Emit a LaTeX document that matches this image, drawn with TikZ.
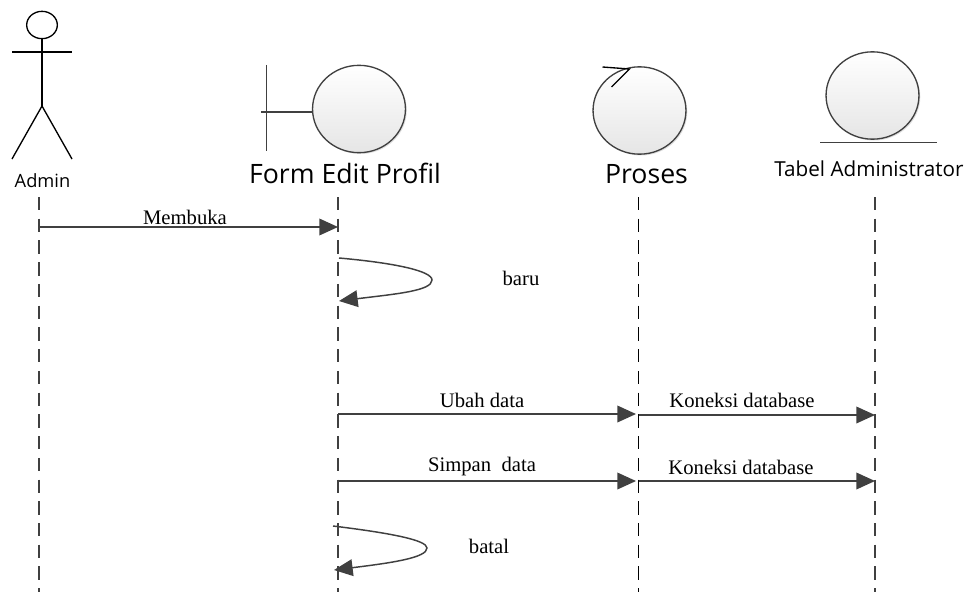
\documentclass[tikz,border=0pt]{standalone}
\usepackage{fontspec}
\setmainfont{Liberation Serif}
\newfontfamily\labelfont{Open Sans}
\usetikzlibrary{arrows.meta,shapes.geometric,shadows}
\definecolor{linegray}{HTML}{404040}
\begin{document}
\begin{tikzpicture}[x=0.75pt,y=-0.75pt]
\tikzstyle{stick} = [ellipse, draw=black, line width=1pt, fill=white, inner sep=0pt] % actor head
\tikzstyle{robust} = [ellipse, draw=linegray, line width=1pt, minimum width=69.7pt, minimum height=65.5pt, inner sep=0pt, top color=white, bottom color=black!10, drop shadow={opacity=.25, shadow xshift=1pt, shadow yshift=-1pt}] % robustness circle
\tikzstyle{lifeline} = [draw=linegray, line width=1pt, dash pattern=on 10pt off 6.3pt]
\tikzstyle{msg} = [draw=linegray, line width=1.1pt, -{Triangle[length=14pt,width=12.5pt]}]
\tikzstyle{msgtext} = [inner sep=0pt, font=\fontsize{15.5}{17}\selectfont]
\useasboundingbox (0,0) rectangle (969,592);

% aktor
\node[stick, minimum width=23pt, minimum height=20.5pt] (adminhead) at (42,25) {};
\coordinate (adminhip) at (42,106);
\coordinate (adminarml) at (12,52);
\coordinate (adminarmr) at (72,52);
\coordinate (adminfootl) at (12,159);
\coordinate (adminfootr) at (72,159);
\draw[line width=1pt] (adminhead) -- (adminhip);
\draw[line width=1pt] (adminarml) -- (adminarmr);
\draw[line width=1pt] (adminfootl) -- (adminhip) -- (adminfootr);
\node[inner sep=0pt, font=\labelfont\fontsize{13.7}{15}\selectfont] (adminlabel) at (42.5,181) {Admin};

% boundary
\node[robust] (form) at (359,109) {};
\coordinate (formbart) at (266.5,65);
\coordinate (formbarb) at (266.5,151);
\coordinate (formstem) at (261,112);
\draw[linegray, line width=1pt] (formbart) -- (formbarb);
\draw[linegray, line width=1pt] (formstem) -- (form.west |- formstem);
\node[inner sep=0pt, font=\labelfont\fontsize{20}{22}\selectfont] (formlabel) at (345,173) {Form Edit Profil};

% control
\node[robust] (proses) at (639.5,110.5) {};
\coordinate (prosestip) at (629.5,69);
\coordinate (prosesa) at (602.5,67);
\coordinate (prosesb) at (611.5,87);
\draw[line width=1pt] (prosesa) -- (prosestip) -- (prosesb);
\node[inner sep=0pt, font=\labelfont\fontsize{20}{22}\selectfont] (proseslabel) at (646.5,174) {Proses};

% entity
\node[robust] (tabel) at (872.5,95.5) {};
\coordinate (tabelbasel) at (820,142.5);
\coordinate (tabelbaser) at (937,142.5);
\draw[linegray, line width=1pt] (tabelbasel) -- (tabelbaser);
\node[inner sep=0pt, font=\labelfont\fontsize{15.5}{17}\selectfont] (tabellabel) at (869,169) {Tabel Administrator};

% garis hidup
\coordinate (admintop) at (39,197);
\coordinate (adminend) at (39,592);
\coordinate (formtop) at (338,197);
\coordinate (formend) at (338,592);
\coordinate (prosestop) at (638.5,197);
\coordinate (prosesend) at (638.5,592);
\coordinate (tabeltop) at (875,197);
\coordinate (tabelend) at (875,592);
\draw[lifeline] (admintop) -- (adminend);
\draw[lifeline] (formtop) -- (formend);
\draw[lifeline, draw=black] (prosestop) -- (prosesend);
\draw[lifeline] (tabeltop) -- (tabelend);

% pesan
\coordinate (m1a) at (39,227);
\coordinate (m1b) at (338,227);
\coordinate (m2a) at (339,258);
\coordinate (m2b) at (339,301);
\coordinate (m3a) at (338,414);
\coordinate (m3b) at (636,414);
\coordinate (m4a) at (638.5,415);
\coordinate (m4b) at (875,415);
\coordinate (m5a) at (338,481);
\coordinate (m5b) at (636,481);
\coordinate (m6a) at (638.5,481);
\coordinate (m6b) at (875,481);
\coordinate (m7a) at (333,526);
\coordinate (m7b) at (334,570);
\draw[msg] (m1a) -- (m1b);
\draw[msg] (m2a) .. controls (395,263) and (432,271) .. (432,280) .. controls (432,291) and (395,294) .. (m2b);
\draw[msg] (m3a) -- (m3b);
\draw[msg] (m4a) -- (m4b);
\draw[msg] (m5a) -- (m5b);
\draw[msg] (m6a) -- (m6b);
\draw[msg] (m7a) .. controls (390,533) and (427,540) .. (427,548) .. controls (427,558) and (390,563) .. (m7b);

\node[msgtext] (buka) at (185,217) {Membuka};
\node[msgtext] (baru) at (521,278) {baru};
\node[msgtext] (ubah) at (482,400) {Ubah data};
\node[msgtext] (kon1) at (742,400) {Koneksi database};
\node[msgtext] (simpan) at (482,467) {Simpan\ \ data};
\node[msgtext] (kon2) at (741,467) {Koneksi database};
\node[msgtext] (batal) at (489,546) {batal};
\end{tikzpicture}
\end{document}
